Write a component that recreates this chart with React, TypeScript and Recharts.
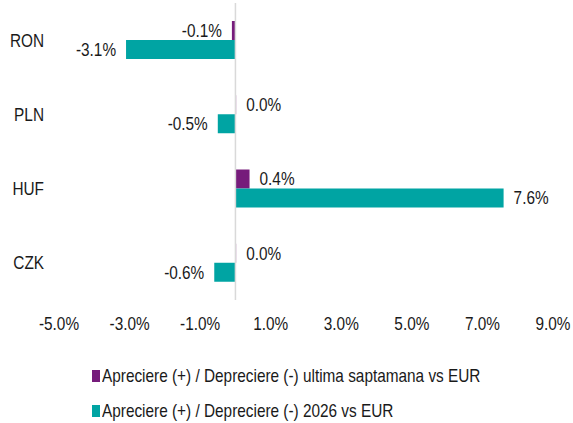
import React from "react";
import { BarChart, Bar, XAxis, YAxis, ReferenceLine, LabelList } from "recharts";

const categories = ["RON", "PLN", "HUF", "CZK"];
const weeklyChange = [-0.1, 0.02, 0.4, 0.02];
const ytdChange = [-3.1, -0.5, 7.6, -0.6];
const xTicks = [-5, -3, -1, 1, 3, 5, 7, 9];
const seriesNames = [
  "Apreciere (+) / Depreciere (-) ultima saptamana vs EUR",
  "Apreciere (+) / Depreciere (-) 2026 vs EUR",
];
const seriesColors = ["#761c7b", "#00a4a3"];

const data = categories.map((c, i) => ({
  name: c,
  weekly: weeklyChange[i],
  ytd: ytdChange[i],
}));

const FONT = "'Liberation Sans', Arial, sans-serif";
const FS = 18.5;
const SX = 0.83;
const TXT = "#1a1a1a";

const NarrowText = ({ x, y, anchor, children }: any) => (
  <g transform={`translate(${x},${y}) scale(${SX},1)`}>
    <text x={0} y={0} dy="0.35em" textAnchor={anchor} fontFamily={FONT} fontSize={FS} fill={TXT}>
      {children}
    </text>
  </g>
);

const XTick = (props: any) => {
  const { x, y, payload } = props;
  return (
    <NarrowText x={x} y={y + 16} anchor="middle">
      {`${Number(payload.value).toFixed(1)}%`}
    </NarrowText>
  );
};

const YTick = (props: any) => {
  const { y, payload } = props;
  return (
    <NarrowText x={44} y={y} anchor="end">
      {payload.value}
    </NarrowText>
  );
};

const renderLabel = (props: any) => {
  const { x, y, width, height, value } = props;
  const left = Math.min(x, x + width);
  const right = Math.max(x, x + width);
  const cy = y + height / 2;
  const neg = value < 0;
  return (
    <NarrowText x={neg ? left - 10 : right + 10} y={cy} anchor={neg ? "end" : "start"}>
      {`${Number(value).toFixed(1)}%`}
    </NarrowText>
  );
};

export default function App() {
  return (
    <div style={{ width: 573, height: 423, background: "#fff", position: "relative", overflow: "hidden" }}>
      <style>{`body{margin:0}`}</style>
      <BarChart
        width={573}
        height={423}
        data={data}
        layout="vertical"
        margin={{ top: 3, right: 20, left: 0, bottom: 83 }}
        barGap={0}
        barSize={19}
      >
        <XAxis
          type="number"
          domain={[-5, 9]}
          ticks={xTicks}
          axisLine={false}
          tickLine={false}
          tick={<XTick />}
          height={40}
          interval={0}
        />
        <YAxis
          type="category"
          dataKey="name"
          width={59}
          axisLine={false}
          tickLine={false}
          tick={<YTick />}
        />
        <ReferenceLine x={0} stroke="#d9d9d9" strokeWidth={1.5} />
        <Bar dataKey="weekly" name={seriesNames[0]} fill={seriesColors[0]} isAnimationActive={false}>
          <LabelList dataKey="weekly" content={renderLabel} />
        </Bar>
        <Bar dataKey="ytd" name={seriesNames[1]} fill={seriesColors[1]} isAnimationActive={false}>
          <LabelList dataKey="ytd" content={renderLabel} />
        </Bar>
      </BarChart>
      <div
        style={{
          position: "absolute",
          left: 92,
          top: 358,
          fontFamily: FONT,
          fontSize: FS,
          color: TXT,
        }}
      >
        {seriesNames.map((n, i) => (
          <div key={n} style={{ display: "flex", alignItems: "center", height: 35, whiteSpace: "nowrap" }}>
            <span
              style={{
                display: "inline-block",
                width: 8,
                height: 12,
                background: seriesColors[i],
                marginRight: 2,
                flex: "none",
              }}
            />
            <span style={{ display: "inline-block", transform: `scaleX(${SX})`, transformOrigin: "left center" }}>
              {n}
            </span>
          </div>
        ))}
      </div>
    </div>
  );
}
